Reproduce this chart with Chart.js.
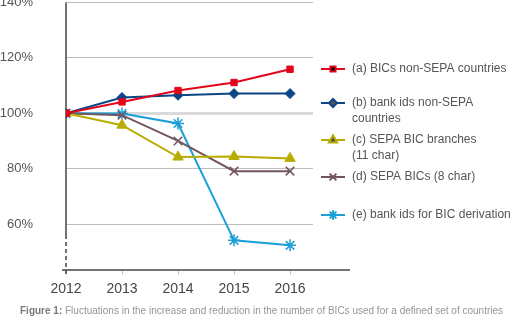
<!DOCTYPE html>
<html>
<head>
<meta charset="utf-8">
<script src="https://cdn.jsdelivr.net/npm/chart.js@4/dist/chart.umd.min.js"></script>
<style>
  body { margin: 0; background: #fff; }
  #wrap { position: relative; width: 516px; height: 322px; overflow: hidden; }
  #myChart { position: absolute; left: 0; top: -5px; }
  #caption { position: absolute; left: 20px; top: 305px; font: 10px "Liberation Sans", Arial, sans-serif; color: #959595; white-space: nowrap; }
  #caption b { color: #7a7a7a; }
</style>
</head>
<body>
<div id="wrap">
  <canvas id="myChart" width="516" height="327"></canvas>
  <div id="caption"><b>Figure 1:</b> Fluctuations in the increase and reduction in the number of BICs used for a defined set of countries</div>
</div>
<script>
const years = [2012, 2013, 2014, 2015, 2016];
const yTicks = [60, 80, 100, 120, 140];

const bicsNonSepa = [100, 104.1, 108.2, 111.1, 115.9];
const bankIdsNonSepa = [100, 105.7, 106.5, 107.1, 107.1];
const sepaBranches = [100, 95.7, 84.2, 84.4, 83.7];
const sepaBics8 = [100, 99.3, 90.0, 79.1, 79.1];
const bankIdsDerivation = [100, 99.9, 96.3, 54.1, 52.3];

const seriesNames = [
    ['(a) BICs non-SEPA countries'],
    ['(b) bank ids non-SEPA', 'countries'],
    ['(c) SEPA BIC branches', '(11 char)'],
    ['(d) SEPA BICs (8 char)'],
    ['(e) bank ids for BIC derivation']
];

const points = vals => years.map((yr, i) => ({ x: yr, y: vals[i] }));

// canvas sits 5px above the page top, so legend rows are shifted by that
const shift = 5;
const legendY = [69, 103, 140, 177, 215];

const legendPlugin = {
    id: 'sideLegend',
    afterDraw(chart) {
        const ctx = chart.ctx;
        ctx.save();
        chart.data.datasets.forEach((ds, i) => {
            const y = legendY[i] + shift;
            ctx.strokeStyle = ds.borderColor;
            ctx.lineWidth = 2;
            ctx.beginPath();
            ctx.moveTo(321, y);
            ctx.lineTo(345, y);
            ctx.stroke();
            Chart.helpers.drawPoint(ctx, {
                pointStyle: ds.pointStyle,
                radius: ds.pointRadius * 0.8,
                borderWidth: ds.pointBorderWidth || 1
            }, 333, y);
            ctx.fillStyle = '#555';
            ctx.font = '12px "Liberation Sans", Arial, sans-serif';
            ctx.textBaseline = 'middle';
            seriesNames[i].forEach((line, k) => ctx.fillText(line, 352, y + k * 16));
        });
        ctx.restore();
    }
};

// y axis solid then dashed near the bottom, x axis running past the grid
const axisPlugin = {
    id: 'axisLines',
    beforeDatasetsDraw(chart) {
        const ctx = chart.ctx;
        const a = chart.chartArea;
        const yBreak = chart.scales.y.getPixelForValue(56);
        ctx.save();
        ctx.strokeStyle = '#444';
        ctx.lineWidth = 1.5;
        ctx.beginPath();
        ctx.moveTo(a.left, a.top);
        ctx.lineTo(a.left, yBreak);
        ctx.stroke();
        ctx.setLineDash([4, 3]);
        ctx.beginPath();
        ctx.moveTo(a.left, yBreak);
        ctx.lineTo(a.left, a.bottom + 6);
        ctx.stroke();
        ctx.setLineDash([]);
        ctx.beginPath();
        ctx.moveTo(a.left - 4, a.bottom);
        ctx.lineTo(350, a.bottom);
        ctx.stroke();
        ctx.restore();
    }
};

const ctx = document.getElementById('myChart');
const myChart = new Chart(ctx, {
    type: 'line',
    data: {
        datasets: [{
            label: seriesNames[0].join(' '),
            data: points(bicsNonSepa),
            borderColor: '#e2061c',
            backgroundColor: '#e2061c',
            pointStyle: 'rect',
            pointRadius: 4.5
        },
        {
            label: seriesNames[1].join(' '),
            data: points(bankIdsNonSepa),
            borderColor: '#0a4585',
            backgroundColor: '#0a4585',
            pointStyle: 'rectRot',
            pointRadius: 5
        },
        {
            label: seriesNames[2].join(' '),
            data: points(sepaBranches),
            borderColor: '#b9ac00',
            backgroundColor: '#b9ac00',
            pointStyle: 'triangle',
            pointRadius: 6
        },
        {
            label: seriesNames[3].join(' '),
            data: points(sepaBics8),
            borderColor: '#735560',
            backgroundColor: '#735560',
            pointStyle: 'crossRot',
            pointRadius: 6,
            pointBorderWidth: 1.5
        },
        {
            label: seriesNames[4].join(' '),
            data: points(bankIdsDerivation),
            borderColor: '#1b9fd8',
            backgroundColor: '#1b9fd8',
            pointStyle: 'star',
            pointRadius: 6,
            pointBorderWidth: 1.5
        }]
    },
    options: {
        responsive: false,
        animation: false,
        devicePixelRatio: 1,
        layout: { padding: { left: 0, top: 3, right: 203, bottom: 24 } },
        elements: { line: { borderWidth: 2, tension: 0 } },
        plugins: {
            legend: { display: false },
            tooltip: { enabled: false }
        },
        scales: {
            x: {
                type: 'linear',
                min: 2012,
                max: 2016.41,
                afterBuildTicks: s => { s.ticks = years.map(v => ({ value: v })); },
                afterFit: s => { s.height = 28; s.paddingLeft = 0; s.paddingRight = 0; },
                border: { display: false },
                grid: { drawOnChartArea: false, tickLength: 5, color: '#ccc' },
                ticks: {
                    callback: v => String(v),
                    color: '#444',
                    padding: 6,
                    maxRotation: 0,
                    font: { family: '"Liberation Sans", Arial, sans-serif', size: 14 }
                }
            },
            y: {
                min: 43.4,
                max: 140,
                afterBuildTicks: s => { s.ticks = yTicks.map(v => ({ value: v })); },
                afterFit: s => { s.width = 66; s.paddingTop = 0; s.paddingBottom = 0; },
                border: { display: false },
                grid: {
                    drawTicks: false,
                    color: c => c.tick && c.tick.value === 100 ? '#dadada' : '#bdbdbd',
                    lineWidth: c => c.tick && c.tick.value === 100 ? 3 : 1
                },
                ticks: {
                    callback: v => v + '%',
                    color: '#555',
                    padding: 33,
                    font: { family: '"Liberation Sans", Arial, sans-serif', size: 13 }
                }
            }
        }
    },
    plugins: [axisPlugin, legendPlugin]
});
</script>
</body>
</html>
